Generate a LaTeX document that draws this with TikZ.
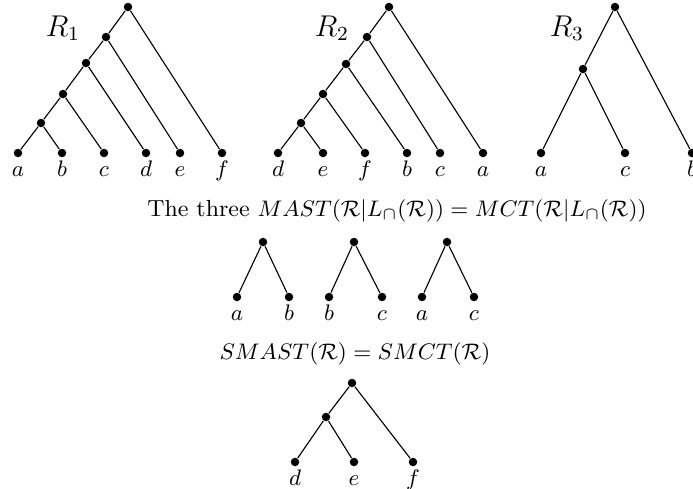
\documentclass[tikz,border=0pt]{standalone}
\usepackage{amsmath}
\usepackage{tikz}
\usetikzlibrary{positioning}

\begin{document}
\begin{tikzpicture}[
        x=0.4pt, y=-0.4pt,
        dot/.style={circle, fill=black, inner sep=0pt, minimum size=3.4pt},
        lbl/.style={font=\small, inner sep=1pt, text height=1.5ex, text depth=.25ex},
        leaf/.style={dot, label={[lbl]below:$#1$}},
        tree/.style={font=\large},
        title/.style={font=\fontsize{9.3}{11}\selectfont},
        edge/.style={draw=black, line width=0.45pt}
    ]
    \useasboundingbox (0,0) rectangle (693,488);

    % R_1
    \node[tree] at (63,28) {$R_1$};
    \node[dot] (r1root) at (128,7) {};
    \node[dot] (r1n1) at (106,37) {};
    \node[dot] (r1n2) at (86,63) {};
    \node[dot] (r1n3) at (63,94) {};
    \node[dot] (r1n4) at (41,123) {};
    \node[leaf=a] (r1a) at (18,153) {};
    \node[leaf=b] (r1b) at (62,153) {};
    \node[leaf=c] (r1c) at (104,153) {};
    \node[leaf=d] (r1d) at (146,153) {};
    \node[leaf=e] (r1e) at (180,153) {};
    \node[leaf=f] (r1f) at (222,153) {};
    \draw[edge] (r1root) -- (r1n1) -- (r1n2) -- (r1n3) -- (r1n4) -- (r1a);
    \draw[edge] (r1n4) -- (r1b);
    \draw[edge] (r1n3) -- (r1c);
    \draw[edge] (r1n2) -- (r1d);
    \draw[edge] (r1n1) -- (r1e);
    \draw[edge] (r1root) -- (r1f);

    % R_2
    \node[tree] at (332,28) {$R_2$};
    \node[dot] (r2root) at (389,7) {};
    \node[dot] (r2n1) at (367,37) {};
    \node[dot] (r2n2) at (346,64) {};
    \node[dot] (r2n3) at (323,94) {};
    \node[dot] (r2n4) at (301,123) {};
    \node[leaf=d] (r2d) at (278,153) {};
    \node[leaf=e] (r2e) at (323,153) {};
    \node[leaf=f] (r2f) at (365,153) {};
    \node[leaf=b] (r2b) at (407,153) {};
    \node[leaf=c] (r2c) at (440,153) {};
    \node[leaf=a] (r2a) at (483,153) {};
    \draw[edge] (r2root) -- (r2n1) -- (r2n2) -- (r2n3) -- (r2n4) -- (r2d);
    \draw[edge] (r2n4) -- (r2e);
    \draw[edge] (r2n3) -- (r2f);
    \draw[edge] (r2n2) -- (r2b);
    \draw[edge] (r2n1) -- (r2c);
    \draw[edge] (r2root) -- (r2a);

    % R_3
    \node[tree] at (567,28) {$R_3$};
    \node[dot] (r3root) at (615,7) {};
    \node[dot] (r3n1) at (583,69) {};
    \node[leaf=a] (r3a) at (541,153) {};
    \node[leaf=c] (r3c) at (625,153) {};
    \node[leaf=b] (r3b) at (692,153) {};
    \draw[edge] (r3root) -- (r3n1) -- (r3a);
    \draw[edge] (r3n1) -- (r3c);
    \draw[edge] (r3root) -- (r3b);

    % MAST = MCT
    \node[title] (mast) at (397,211) {The three $MAST(\mathcal{R}|L_\cap(\mathcal{R}))=MCT(\mathcal{R}|L_\cap(\mathcal{R}))$};
    \node[dot] (m1root) at (263,242) {};
    \node[leaf=a] (m1a) at (237,297) {};
    \node[leaf=b] (m1b) at (289,297) {};
    \node[dot] (m2root) at (354,242) {};
    \node[leaf=b] (m2b) at (329,297) {};
    \node[leaf=c] (m2c) at (382,297) {};
    \node[dot] (m3root) at (447,242) {};
    \node[leaf=a] (m3a) at (422,297) {};
    \node[leaf=c] (m3c) at (474,297) {};
    \draw[edge] (m1a) -- (m1root) -- (m1b);
    \draw[edge] (m2b) -- (m2root) -- (m2c);
    \draw[edge] (m3a) -- (m3root) -- (m3c);

    % SMAST = SMCT
    \node[title] (smast) at (355,354) {$SMAST(\mathcal{R})=SMCT(\mathcal{R})$};
    \node[dot] (sroot) at (352,383) {};
    \node[dot] (sn1) at (326,417) {};
    \node[leaf=d] (sd) at (295,462) {};
    \node[leaf=e] (se) at (354,462) {};
    \node[leaf=f] (sf) at (413,462) {};
    \draw[edge] (sroot) -- (sn1) -- (sd);
    \draw[edge] (sn1) -- (se);
    \draw[edge] (sroot) -- (sf);
\end{tikzpicture}
\end{document}
